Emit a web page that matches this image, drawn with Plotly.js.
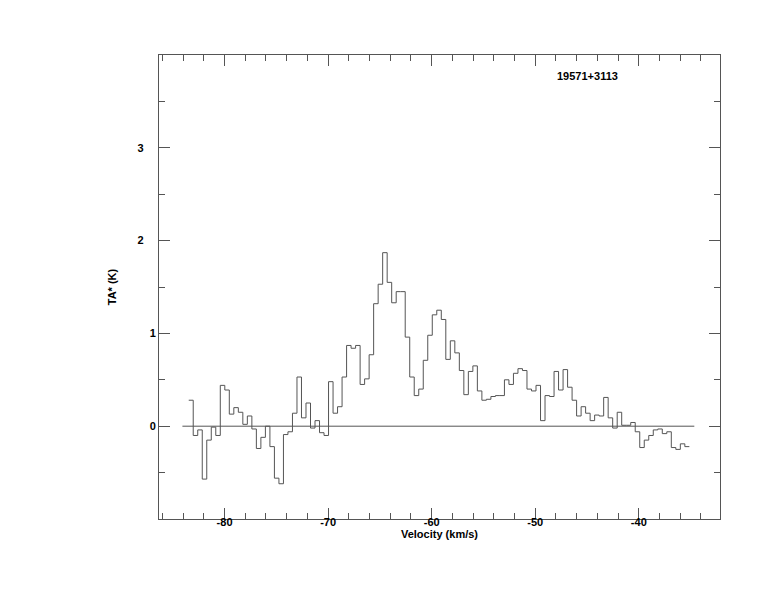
<!DOCTYPE html>
<html>
<head>
<meta charset="utf-8">
<script src="https://cdn.plot.ly/plotly-3.0.1.min.js"></script>
<style>html,body{margin:0;padding:0;background:#fff;}#chart{width:774px;height:612px;}</style>
</head>
<body>
<div id="chart"></div>
<script>
// Spectrum: antenna temperature per channel (K), 111 channels
const vStart = -83.46;      // left edge of first channel (km/s)
const chanWidth = 0.4355;   // channel width (km/s)
const tA = [
  0.28, -0.10, -0.04, -0.57, -0.15, -0.01, -0.10, 0.44, 0.39, 0.13,
  0.20, 0.15, 0.02, 0.11, -0.03, -0.24, -0.12, 0.00, -0.22, -0.56,
  -0.62, -0.09, -0.06, 0.14, 0.53, 0.09, 0.25, -0.02, 0.06, -0.07,
  -0.10, 0.48, 0.14, 0.21, 0.53, 0.87, 0.84, 0.87, 0.45, 0.51,
  0.77, 1.32, 1.53, 1.87, 1.55, 1.33, 1.45, 1.45, 0.96, 0.53,
  0.33, 0.40, 0.71, 0.98, 1.20, 1.25, 1.15, 0.72, 0.92, 0.79,
  0.60, 0.34, 0.59, 0.65, 0.38, 0.28, 0.29, 0.32, 0.33, 0.33,
  0.50, 0.45, 0.57, 0.62, 0.60, 0.40, 0.38, 0.44, 0.06, 0.33,
  0.32, 0.59, 0.39, 0.61, 0.42, 0.28, 0.11, 0.21, 0.14, 0.06,
  0.12, 0.11, 0.31, 0.09, -0.02, 0.15, 0.01, 0.01, 0.04, -0.06,
  -0.23, -0.15, -0.10, -0.04, -0.03, -0.08, -0.06, -0.23, -0.25, -0.19,
  -0.22
];
const baselineV = [-84.07, -34.64];
const baselineT = [0, 0];
const xTickVals = [-80, -70, -60, -50, -40];
const xTickText = ["-80", "-70", "-60", "-50", "-40"];
const yTickVals = [0, 1, 2, 3];
const yTickText = ["0", "1", "2\u00a0\u00a0\u00a0\u00a0", "3\u00a0\u00a0\u00a0\u00a0"];
const sourceName = "19571+3113";

// channel edges for step drawing
const edges = tA.map((_, i) => vStart + i * chanWidth);
edges.push(vStart + tA.length * chanWidth);
const stepY = tA.concat([tA[tA.length - 1]]);

const fontBase = {family: "Liberation Sans, Arial, sans-serif", size: 11, color: "#000", weight: "bold"};

const traces = [
  {x: baselineV, y: baselineT, mode: "lines", line: {color: "#555", width: 1}, hoverinfo: "skip"},
  {x: edges, y: stepY, mode: "lines", line: {shape: "hv", color: "#555", width: 1}}
];

const axisCommon = {
  showline: true, linecolor: "#555", linewidth: 1, mirror: "allticks",
  ticks: "inside", tickcolor: "#555", tickwidth: 1,
  showgrid: false, zeroline: false, tickfont: fontBase
};

const layout = {
  width: 774, height: 612,
  margin: {l: 159, r: 54, t: 55, b: 93},
  paper_bgcolor: "#fff", plot_bgcolor: "#fff",
  showlegend: false,
  xaxis: Object.assign({}, axisCommon, {
    range: [-86.33, -32.16], tickmode: "array", tickvals: xTickVals, ticktext: xTickText, ticklen: 11,
    ticklabelstandoff: -7,
    minor: {dtick: 2, tick0: 0, ticklen: 6, ticks: "inside", tickcolor: "#555", showgrid: false},
    title: {text: "Velocity (km/s)", font: fontBase, standoff: 3}
  }),
  yaxis: Object.assign({}, axisCommon, {
    range: [-1, 4], tickmode: "array", tickvals: yTickVals, ticktext: yTickText, ticklen: 11,
    minor: {dtick: 0.5, tick0: 0, ticklen: 6, ticks: "inside", tickcolor: "#555", showgrid: false},
    title: {text: "TA* (K)", font: fontBase, standoff: 18}
  }),
  annotations: [{
    text: sourceName, xref: "paper", yref: "paper", x: 0.764, y: 0.955,
    showarrow: false, font: fontBase, xanchor: "center", yanchor: "middle"
  }]
};

Plotly.newPlot("chart", traces, layout, {displayModeBar: false, staticPlot: true});
</script>
</body>
</html>
